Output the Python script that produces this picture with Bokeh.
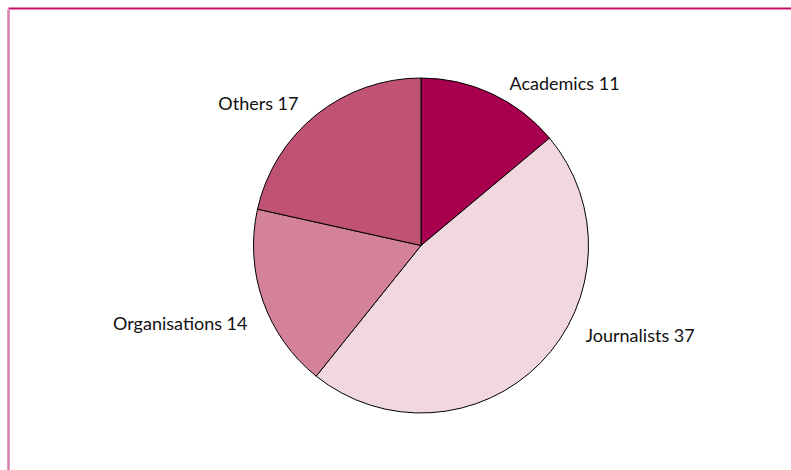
import math
from bokeh.plotting import figure
from bokeh.models import ColumnDataSource, Range1d
from bokeh.core.properties import value
from bokeh.embed import file_html
from bokeh.resources import INLINE

# ---- data ----
categories = ["Academics", "Journalists", "Organisations", "Others"]
counts = [11, 37, 14, 17]
colors = ["#a8004f", "#f0d8de", "#d38299", "#c05273"]

# ---- layout (pixels inside the figure) ----
W, H = 791, 470
CX, CY = 420.5, 225.0   # pie centre
R = 167.5
# label anchors (dx, dy from centre) and alignment
label_offsets = [(88.5, 163), (164.5, -89), (-173.5, -77), (-122.5, 143)]
label_align = ["left", "left", "right", "right"]
FRAME = 8

total = sum(counts)
starts, ends, cum = [], [], 0
for c in counts:
    starts.append(math.pi / 2 - 2 * math.pi * cum / total)
    cum += c
    ends.append(math.pi / 2 - 2 * math.pi * cum / total)

src = ColumnDataSource(dict(
    x=[CX] * len(counts), y=[CY] * len(counts),
    start=starts, end=ends, color=colors,
))

p = figure(width=W, height=H, output_backend="svg", toolbar_location=None,
           x_range=Range1d(0, W), y_range=Range1d(0, H),
           min_border=0, outline_line_color=None)
p.axis.visible = False
p.grid.visible = False
p.background_fill_color = "white"
p.border_fill_color = "white"

p.wedge(x="x", y="y", radius=R, start_angle="start", end_angle="end",
        direction="clock", fill_color="color", line_color="black",
        line_width=1, source=src)

labels = [f"{c} {n}" for c, n in zip(categories, counts)]
lsrc = ColumnDataSource(dict(
    x=[CX + dx for dx, dy in label_offsets],
    y=[CY + dy for dx, dy in label_offsets],
    t=labels, align=label_align,
))
p.text(x="x", y="y", text="t", text_align="align", text_baseline="middle",
       text_font=value("Lato"), text_font_size="18px",
       text_color="#111111", source=lsrc)

# frame lines (top magenta, left pink)
p.segment(x0=[FRAME], y0=[H - FRAME], x1=[W], y1=[H - FRAME],
          line_color="#c8106a", line_width=2)
p.segment(x0=[FRAME], y0=[0], x1=[FRAME], y1=[H - FRAME - 1],
          line_color="#d87fb0", line_width=2.5)

open("out.html", "w").write(file_html(p, INLINE))
